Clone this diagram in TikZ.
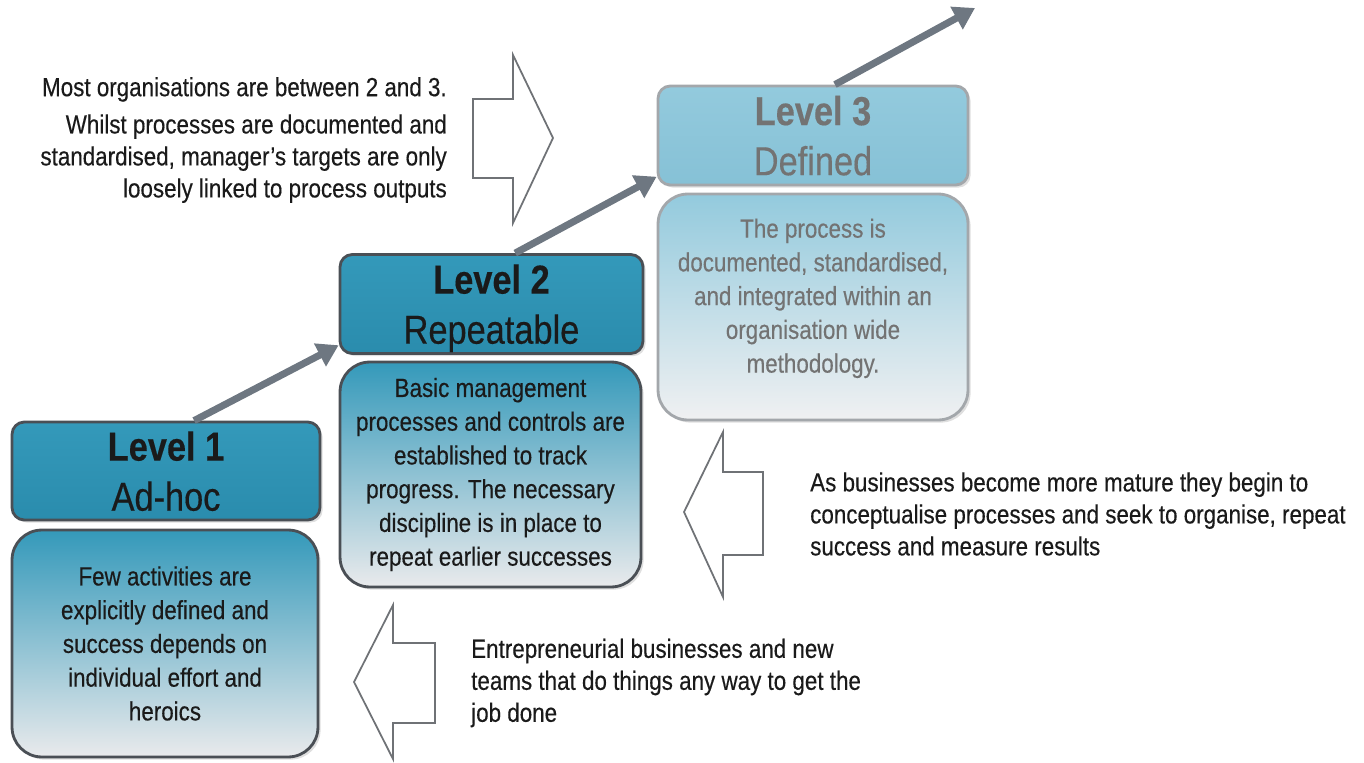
\documentclass[tikz,border=0pt]{standalone}
\usepackage{fontspec}
\setmainfont{Liberation Sans}[FakeStretch=0.85, FakeBold=0.35]
\usetikzlibrary{arrows.meta,shadows}

\definecolor{ink}{HTML}{1A1A1A}
\definecolor{fadedink}{HTML}{737373}
\definecolor{darkedge}{HTML}{4A4F55}
\definecolor{lightedge}{HTML}{A3A7AB}
\definecolor{tealtop}{HTML}{3499BA}
\definecolor{tealbot}{HTML}{2A8CAD}
\definecolor{skytop}{HTML}{93CADD}
\definecolor{skybot}{HTML}{86C1D6}
\definecolor{mist}{HTML}{D5DEE2}
\definecolor{paper}{HTML}{E9EAEC}
\definecolor{climbgray}{HTML}{6E7781}
\definecolor{outline}{HTML}{6F7276}

\begin{document}
\begin{tikzpicture}[x=0.02cm, y=-0.02cm,
    head/.style={draw=darkedge, line width=1.6pt, rounded corners=7pt,
                 top color=tealtop, bottom color=tealbot, text=ink,
                 align=center, font=\fontsize{23}{28.5}\selectfont, text depth=0pt,
                 drop shadow={shadow xshift=1.5pt, shadow yshift=-1.5pt, opacity=0.25}},
    body/.style={draw=darkedge, line width=1.6pt, rounded corners=17pt,
                 top color=tealtop, middle color=mist, bottom color=paper, text=ink,
                 align=center, font=\fontsize{15}{19.2}\selectfont,
                 drop shadow={shadow xshift=1.5pt, shadow yshift=-1.5pt, opacity=0.25}},
    faded/.style={draw=lightedge, text=fadedink},
    climb/.style={draw=climbgray, line width=4pt, -{Triangle[length=12pt, width=14pt]}},
    blockarrow/.style={draw=outline, line width=1pt, fill=white, line join=miter},
    note/.style={text=ink, font=\fontsize{15}{18.2}\selectfont}]

  \useasboundingbox (0,0) rectangle (1364,763);

  % levels
  \node[head, minimum width=6.16cm, minimum height=1.96cm] (lvlonehead) at (166,471)
       {\textbf{Level 1}\\Ad-hoc};
  \node[body, minimum width=6.12cm, minimum height=4.54cm] (lvlonebody) at (165,643.5)
       {Few activities are\\explicitly defined and\\success depends on\\individual effort and\\heroics};

  \node[head, minimum width=6.06cm, minimum height=1.98cm] (lvltwohead) at (491.5,304)
       {\textbf{Level 2}\\Repeatable};
  \node[body, minimum width=6.02cm, minimum height=4.5cm] (lvltwobody) at (490.5,474.5)
       {Basic management\\processes and controls are\\established to track\\progress. The necessary\\discipline is in place to\\repeat earlier successes};

  \node[head, faded, top color=skytop, bottom color=skybot,
        minimum width=6.2cm, minimum height=1.98cm] (lvlthreehead) at (813,135.5)
       {\textbf{Level 3}\\Defined};
  \node[body, faded, top color=skytop, middle color=paper!80!skytop, bottom color=paper!70!white,
        text depth=13pt, minimum width=6.2cm, minimum height=4.52cm] (lvlthreebody) at (813,307)
       {The process is\\documented, standardised,\\and integrated within an\\organisation wide\\methodology.};

  % rising arrows
  \coordinate (up) at (975,8);
  \draw[climb] ([xshift=16pt]lvlonehead.north) -- ([yshift=5.5pt]lvltwohead.south west);
  \draw[climb] ([xshift=13.5pt]lvltwohead.north) -- ([yshift=5.5pt]lvlthreehead.south west);
  \draw[climb] ([xshift=12.5pt]lvlthreehead.north) -- (up);

  % block arrows
  \draw[blockarrow] (473,99) -- (513,99) -- (513,55) -- (553,138) -- (513,223)
                    -- (513,178) -- (473,178) -- cycle;
  \draw[blockarrow] (763,472) -- (723,472) -- (723,432) -- (684,512) -- (723,597)
                    -- (723,555) -- (763,555) -- cycle;
  \draw[blockarrow] (435,643) -- (393,643) -- (393,605) -- (354,682) -- (393,759)
                    -- (393,723) -- (435,723) -- cycle;

  % notes
  \node[note, align=right, anchor=east] (topnote) at (453,140)
       {Most organisations are between 2 and 3.\\[3pt]Whilst processes are documented and\\standardised, manager's targets are only\\loosely linked to process outputs};
  \node[note, align=left, anchor=west] (midnote) at (804,514)
       {As businesses become more mature they begin to\\conceptualise processes and seek to organise, repeat\\success and measure results};
  \node[note, align=left, anchor=west] (lownote) at (465,683)
       {Entrepreneurial businesses and new\\teams that do things any way to get the\\job done};
\end{tikzpicture}
\end{document}
